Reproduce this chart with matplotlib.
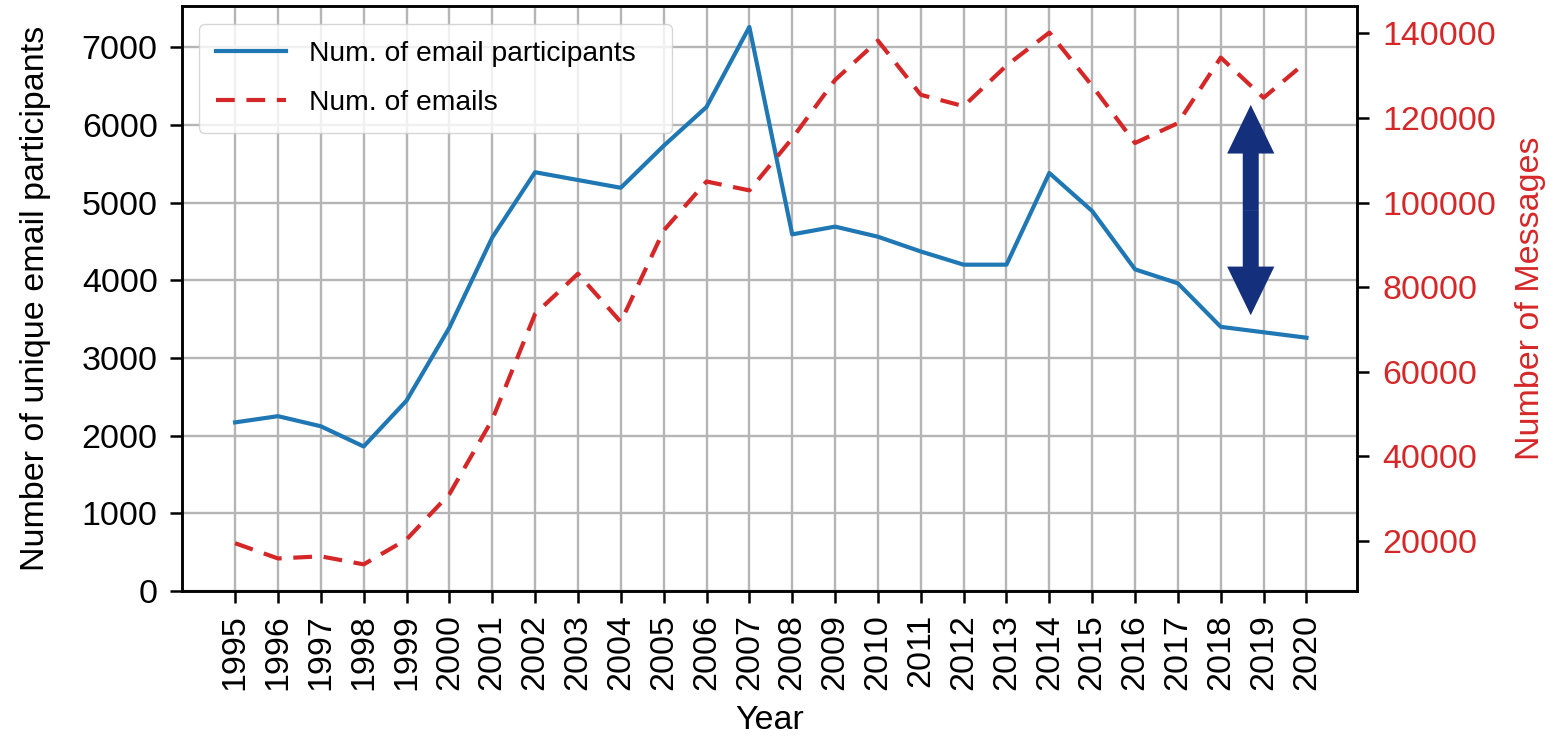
import numpy as np
import matplotlib
matplotlib.use("Agg")
import matplotlib.pyplot as plt

plt.rcParams['font.family'] = ['Liberation Sans', 'DejaVu Sans']

years = list(range(1995, 2021))
participants = [2170, 2250, 2120, 1860, 2450, 3390, 4550, 5390, 5290, 5190,
                5730, 6230, 7260, 4590, 4690, 4560, 4370, 4200, 4200, 5380,
                4890, 4140, 3960, 3400, 3330, 3260]
emails = [19500, 15900, 16400, 14500, 20400, 31100, 48700, 73700, 83200, 71800,
          93400, 105000, 102900, 115200, 129000, 138300, 125500, 122800, 132400, 140200,
          127600, 114100, 118800, 134300, 124800, 133300]

# arrow marking the gap (x in years, y in messages)
arrow_x = 2018.7
arrow_top = 123100
arrow_bottom = 73400

blue = '#1f77b4'
red = '#d62728'

fig = plt.figure(figsize=(15.5, 7.4), dpi=100)
ax = fig.add_axes([0.1174, 0.2014, 0.7581, 0.7905])
ax2 = ax.twinx()

l1, = ax.plot(years, participants, color=blue, lw=3.0, label='Num. of email participants')
l2, = ax2.plot(years, emails, color=red, lw=3.0, ls='--', dashes=(4.5, 2.8), label='Num. of emails')

ax.set_xlim(1993.76, 2021.18)
ax.set_ylim(bottom=0)
ax.set_xticks(years)
ax.set_xticklabels([str(y) for y in years], rotation=90)
ax.grid(True, color='#b5b5b5', lw=1.7)
ax.set_axisbelow(True)

for a in (ax, ax2):
    for s in a.spines.values():
        s.set_linewidth(1.8)
    a.tick_params(width=1.8, length=8.5, labelsize=24.5)
ax.tick_params(axis='y', pad=9)
ax.tick_params(axis='x', pad=8)
ax2.tick_params(axis='y', pad=10, labelcolor=red)

ax.set_xlabel('Year', fontsize=24.5, labelpad=11)
ax.set_ylabel('Number of unique email participants', fontsize=24.5, labelpad=22)
ax2.set_ylabel('Number of Messages', fontsize=24.5, color=red, labelpad=13)

ax.legend(handles=[l1, l2], loc='upper left', fontsize=20.3, borderpad=0.6,
          handlelength=2.5, labelspacing=0.8, handletextpad=0.8,
          bbox_to_anchor=(0.0145, 0.0, 0.4026, 0.969), mode='expand',
          borderaxespad=0)

ms = 10
style = 'simple,head_length=3.5,head_width=3.4,tail_width=1.15'
mid = (arrow_top + arrow_bottom) / 2
for end in (arrow_top, arrow_bottom):
    ax2.annotate('', xy=(arrow_x, end), xytext=(arrow_x, mid),
                 arrowprops=dict(arrowstyle=style, mutation_scale=ms,
                                 color='#14307c', lw=0, shrinkA=0, shrinkB=0))

fig.savefig('out.png', dpi=100)
